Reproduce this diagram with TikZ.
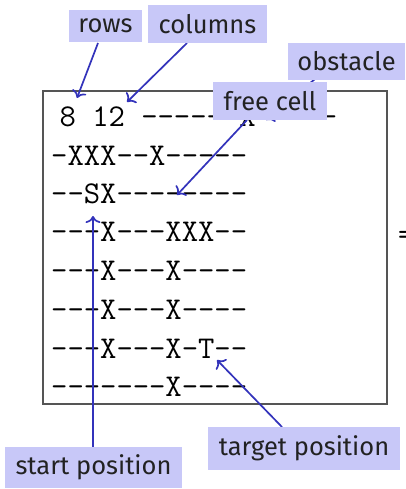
\documentclass[tikz,border=0pt]{standalone}
\usepackage{fontspec}
\newfontfamily\labelfont{Fira Sans}
\usetikzlibrary{arrows.meta}
\definecolor{lblfill}{HTML}{C8C8F8}
\definecolor{lbltext}{HTML}{222222}
\definecolor{arrblue}{HTML}{3333BB}
\definecolor{framegray}{HTML}{555555}
\tikzset{
  lbl/.style={rectangle, fill=lblfill, text=lbltext, inner sep=0pt,
    font=\labelfont\fontsize{25.5}{25.5}\selectfont},
  gridrow/.style={anchor=base west, inner sep=0pt,
    font=\ttfamily\fontsize{31.7}{32}\selectfont},
  pointer/.style={draw=arrblue, line width=1.7pt, -{To[length=7pt,width=15pt]}},
}
\begin{document}
\begin{tikzpicture}[x=1pt,y=-1pt]
\useasboundingbox (0,0) rectangle (405,489);
\fill[white] (0,0) rectangle (405,489);
% frame
\draw[framegray, line width=1.2pt] (43,91) rectangle (387,404);
% grid text
\node[gridrow] (r1) at (59.5,127) {8 12 ------X-----};
\node[gridrow] (r2) at (51,165) {-XXX--X-----};
\node[gridrow] (r3) at (51,203) {--SX--------};
\node[gridrow] (r4) at (51,241) {---X---XXX--};
\node[gridrow] (r5) at (51,280) {---X---X----};
\node[gridrow] (r6) at (51,319) {---X---X----};
\node[gridrow] (r7) at (51,358) {---X---X-T--};
\node[gridrow] (r8) at (51,396) {-------X----};
\node[gridrow] (eq) at (398,244) {=};
% targets
\coordinate (trows) at (77,98);
\coordinate (tcols) at (127,102);
\coordinate (tobs) at (266,120);
\coordinate (tfree) at (177,195);
\coordinate (tstart) at (93,216);
\coordinate (ttarget) at (217,360);
% label nodes (positions)
\coordinate (crows) at (105.5,26);
\coordinate (ccols) at (207.5,24);
\coordinate (cobs) at (346.5,61.5);
\coordinate (cfree) at (270,101);
\coordinate (ctarget) at (304,448.5);
\coordinate (cstart) at (93.5,467.5);
% arrows (drawn under boxes)
\draw[pointer] (98,43) -- (trows);
\draw[pointer] (187,43) -- (tcols);
\draw[pointer] (315,79) -- (tobs);
\draw[pointer] (247,120) -- (tfree);
\draw[pointer] (93,447) -- (tstart);
\draw[pointer] (282,427) -- (ttarget);
% labels
\node[lbl, minimum width=73pt, minimum height=32pt] (rows) at (crows) {rows};
\node[lbl, minimum width=119pt, minimum height=38pt] (cols) at (ccols) {columns};
\node[lbl, minimum width=117pt, minimum height=37pt] (obs) at (cobs) {obstacle};
\node[lbl, minimum width=114pt, minimum height=38pt] (free) at (cfree) {free cell};
\node[lbl, minimum width=192pt, minimum height=43pt] (target) at (ctarget) {target position};
\node[lbl, minimum width=177pt, minimum height=41pt] (start) at (cstart) {start position};
\end{tikzpicture}
\end{document}
